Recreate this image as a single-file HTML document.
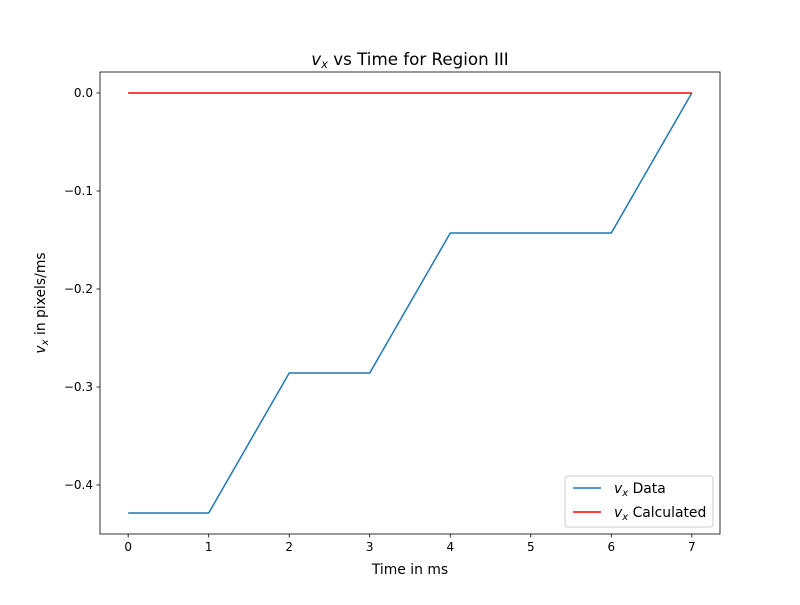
<!DOCTYPE html>
<html><head><meta charset="utf-8"><style>
body{margin:0;background:#fff}
svg text{font-family:"DejaVu Sans","Liberation Sans",sans-serif;fill:#000}
</style></head><body>
<svg id="chart" width="800" height="600" xmlns="http://www.w3.org/2000/svg">
<rect width="800" height="600" fill="#fff"/>
<g id="plot"></g>
<text x="410" y="65" font-size="16.7" text-anchor="middle"><tspan font-style="italic">v</tspan><tspan font-style="italic" font-size="11.5" dy="3">x</tspan><tspan dy="-3"> vs Time for Region III</tspan></text>
<text x="410" y="574" font-size="13.9" text-anchor="middle">Time in ms</text>
<text transform="translate(45,303) rotate(-90)" font-size="13.9" text-anchor="middle"><tspan font-style="italic">v</tspan><tspan font-style="italic" font-size="10" dy="3">x</tspan><tspan dy="-3"> in pixels/ms</tspan></text>
<g>
<rect x="565" y="476" width="148" height="51" rx="3" fill="#fff" fill-opacity="0.8" stroke="#ccc"/>
<line x1="573" y1="488" x2="601" y2="488" stroke="#1f77b4" stroke-width="1.5"/>
<text x="614" y="493" font-size="13.9"><tspan font-style="italic">v</tspan><tspan font-style="italic" font-size="10" dy="3">x</tspan><tspan dy="-3"> Data</tspan></text>
<line x1="573" y1="512" x2="601" y2="512" stroke="red" stroke-width="1.5"/>
<text x="614" y="517" font-size="13.9"><tspan font-style="italic">v</tspan><tspan font-style="italic" font-size="10" dy="3">x</tspan><tspan dy="-3"> Calculated</tspan></text>
</g>
</svg>
<script>
const times=[0,1,2,3,4,5,6,7];
const vxData=[-0.4286,-0.4286,-0.2857,-0.2857,-0.1429,-0.1429,-0.1429,0];
const vxCalc=[0,0,0,0,0,0,0,0];
const xTicks=[0,1,2,3,4,5,6,7];
const yTicks=[0,-0.1,-0.2,-0.3,-0.4];
const yTickLabels=["0.0","\u22120.1","\u22120.2","\u22120.3","\u22120.4"];
const L=100,R=720,T=72,B=534;
const xmin=-0.35,xmax=7.35,ymin=-0.45,ymax=0.0214;
const X=v=>L+(v-xmin)/(xmax-xmin)*(R-L);
const Y=v=>B-(v-ymin)/(ymax-ymin)*(B-T);
const NS="http://www.w3.org/2000/svg";
const g=document.getElementById('plot');
function mk(t,a){const e=document.createElementNS(NS,t);for(const k in a)e.setAttribute(k,a[k]);g.appendChild(e);return e;}
function line(xs,ys,c,name){const p=mk('polyline',{points:xs.map((x,i)=>X(x)+','+Y(ys[i])).join(' '),fill:'none',stroke:c,'stroke-width':1.5});

}
line(times,vxData,'#1f77b4','series-data');
line(times,vxCalc,'red','series-calculated');
const fr=mk('rect',{x:L,y:T,width:R-L,height:B-T,fill:'none',stroke:'#000','stroke-width':0.8});


xTicks.forEach(t=>{mk('line',{x1:X(t),x2:X(t),y1:B,y2:B+3.5,stroke:'#000','stroke-width':0.8});
const tx=mk('text',{x:X(t),y:B+17,'font-size':12,'text-anchor':'middle'});tx.textContent=t;

});
yTicks.forEach((t,i)=>{mk('line',{x1:L-3.5,x2:L,y1:Y(t),y2:Y(t),stroke:'#000','stroke-width':0.8});
const tx=mk('text',{x:L-7,y:Y(t)+4,'font-size':12,'text-anchor':'end'});tx.textContent=yTickLabels[i];

});
</script>
</body></html>
